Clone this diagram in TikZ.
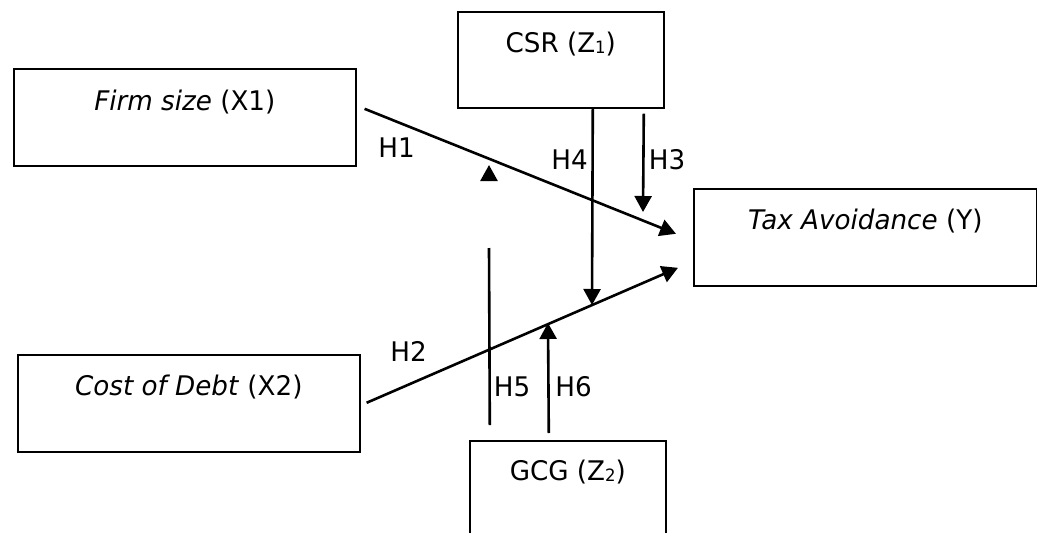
\documentclass[tikz,border=0pt]{standalone}
\usepackage{fontspec}
\setmainfont{DejaVu Sans}[FakeStretch=0.97]
\usetikzlibrary{arrows.meta}
\newcommand{\diafont}{\fontsize{27pt}{32pt}\selectfont}
\newcommand{\lowsub}[1]{\raisebox{-0.5pt}{\fontsize{17pt}{20pt}\selectfont #1}}
\begin{document}
\begin{tikzpicture}[x=1pt,y=-1pt,
  vbox/.style={draw, line width=1.6pt, inner sep=0pt, anchor=north west, font=\diafont},
  conn/.style={line width=2.6pt},
  arr/.style={conn, -{Triangle[length=16pt,width=17pt]}},
  hlab/.style={font=\diafont, inner sep=0pt}]
\useasboundingbox (0,0) rectangle (1037,533);
% boxes
\node[vbox, minimum width=342pt, text height=42pt, text depth=55pt] (x1) at (13,68) {\textit{Firm size} (X1)};
\node[vbox, minimum width=342pt, text height=41pt, text depth=56pt] (x2) at (17,354) {\textit{Cost of Debt} (X2)};
\node[vbox, minimum width=343pt, text height=41pt, text depth=56pt] (ty) at (693,188) {\textit{Tax Avoidance} (Y)};
\node[vbox, minimum width=206pt, text height=41pt, text depth=55pt] (csr) at (457,11) {CSR (Z\lowsub{1})};
\node[vbox, minimum width=196pt, text height=40pt, text depth=57pt] (gcg) at (469,440) {GCG (Z\lowsub{2})};
% free ends
\coordinate (h3tip) at (643,212);
\coordinate (h4tip) at (592,305);
\coordinate (h5top) at (489,248);
\coordinate (h5a) at (489,181);
\coordinate (h5b) at (489,165);
\coordinate (h6tip) at (548,323);
% connectors
\draw[arr] ([xshift=8pt,yshift=8.5pt]x1.east) -- ([xshift=-17pt,yshift=3.5pt]ty.west);
\draw[arr] ([xshift=6pt,yshift=0.5pt]x2.east) -- ([xshift=-15pt,yshift=-30.5pt]ty.west);
\draw[arr] ([xshift=83pt,yshift=-5pt]csr.south) -- (h3tip);
\draw[arr] ([xshift=32pt]csr.south) -- (h4tip);
\draw[conn] ([xshift=-78pt,yshift=15pt]gcg.north) -- (h5top);
\draw[arr] (h5a) -- (h5b);
\draw[arr] ([xshift=-19pt,yshift=7pt]gcg.north) -- (h6tip);
% labels
\node[hlab] (lh1) at (396.5,148) {H1};
\node[hlab] (lh2) at (408.5,351) {H2};
\node[hlab] (lh3) at (667,160) {H3};
\node[hlab] (lh4) at (569.5,160) {H4};
\node[hlab] (lh5) at (512,386.5) {H5};
\node[hlab] (lh6) at (573.5,386.5) {H6};
\end{tikzpicture}
\end{document}
